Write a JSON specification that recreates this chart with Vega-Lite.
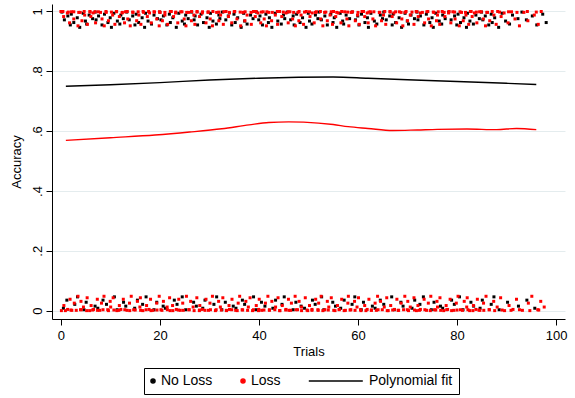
{
"$schema": "https://vega.github.io/schema/vega-lite/v6.json",
"width": 513, "height": 315,
"autosize": {"type": "none"},
"padding": {"left": 52, "top": 4, "right": 10, "bottom": 79},
"background": "white",
"config": {
 "view": {"stroke": null},
 "font": "Liberation Sans",
 "axis": {"domainColor": "black", "tickColor": "black", "labelColor": "black", "titleColor": "black", "titleFontWeight": "normal", "labelFontSize": 13, "titleFontSize": 13, "gridColor": "#e4ecee", "gridWidth": 1, "domainWidth": 1, "tickWidth": 1},
 "legend": {"title": null, "orient": "none", "legendX": 92, "legendY": 364, "direction": "horizontal",
   "strokeColor": "black", "fillColor": "white", "padding": 6, "labelFontSize": 14, "labelColor": "black",
   "labelOffset": 1, "symbolOffset": -4, "columnPadding": 25, "symbolSize": 64, "symbolStrokeWidth": 1.3}
},
"datasets": {
"noloss": [
{"x":0.2,"y":0.998},{"x":0.7,"y":0.972},{"x":1.4,"y":0.985},{"x":1.9,"y":0.955},{"x":2.1,"y":0.991},{"x":2.6,"y":0.963},{"x":3.3,"y":0.979},{"x":3.8,"y":0.947},{"x":4.5,"y":0.994},{"x":4.95,"y":0.968},
{"x":5.2,"y":0.958},{"x":5.7,"y":0.988},{"x":6.4,"y":0.976},{"x":6.9,"y":0.998},{"x":7.1,"y":0.972},{"x":7.6,"y":0.985},{"x":8.3,"y":0.955},{"x":8.8,"y":0.991},{"x":9.5,"y":0.963},{"x":9.95,"y":0.979},
{"x":10.2,"y":0.947},{"x":10.7,"y":0.994},{"x":11.4,"y":0.968},{"x":11.9,"y":0.958},{"x":12.1,"y":0.988},{"x":12.6,"y":0.976},{"x":13.3,"y":0.998},{"x":13.8,"y":0.972},{"x":14.5,"y":0.985},{"x":14.95,"y":0.955},
{"x":15.2,"y":0.991},{"x":15.7,"y":0.963},{"x":16.4,"y":0.979},{"x":16.9,"y":0.947},{"x":17.1,"y":0.994},{"x":17.6,"y":0.968},{"x":18.3,"y":0.958},{"x":18.8,"y":0.988},{"x":19.5,"y":0.976},{"x":19.95,"y":0.998},
{"x":20.2,"y":0.972},{"x":20.7,"y":0.985},{"x":21.4,"y":0.955},{"x":21.9,"y":0.991},{"x":22.1,"y":0.963},{"x":22.6,"y":0.979},{"x":23.3,"y":0.947},{"x":23.8,"y":0.994},{"x":24.5,"y":0.968},{"x":24.95,"y":0.958},
{"x":25.2,"y":0.988},{"x":25.7,"y":0.976},{"x":26.4,"y":0.998},{"x":26.9,"y":0.972},{"x":27.1,"y":0.985},{"x":27.6,"y":0.955},{"x":28.3,"y":0.991},{"x":28.8,"y":0.963},{"x":29.5,"y":0.979},{"x":29.95,"y":0.947},
{"x":30.2,"y":0.994},{"x":30.7,"y":0.968},{"x":31.4,"y":0.958},{"x":31.9,"y":0.988},{"x":32.1,"y":0.976},{"x":32.6,"y":0.998},{"x":33.3,"y":0.972},{"x":33.8,"y":0.985},{"x":34.5,"y":0.955},{"x":34.95,"y":0.991},
{"x":35.2,"y":0.963},{"x":35.7,"y":0.979},{"x":36.4,"y":0.947},{"x":36.9,"y":0.994},{"x":37.1,"y":0.968},{"x":37.6,"y":0.958},{"x":38.3,"y":0.988},{"x":38.8,"y":0.976},{"x":39.5,"y":0.998},{"x":39.95,"y":0.972},
{"x":40.2,"y":0.985},{"x":40.7,"y":0.955},{"x":41.4,"y":0.991},{"x":41.9,"y":0.963},{"x":42.1,"y":0.979},{"x":42.6,"y":0.947},{"x":43.3,"y":0.994},{"x":43.8,"y":0.968},{"x":44.5,"y":0.958},{"x":44.95,"y":0.988},
{"x":45.2,"y":0.976},{"x":45.7,"y":0.998},{"x":46.4,"y":0.972},{"x":46.9,"y":0.985},{"x":47.1,"y":0.955},{"x":47.6,"y":0.991},{"x":48.3,"y":0.963},{"x":48.8,"y":0.979},{"x":49.5,"y":0.947},{"x":49.95,"y":0.994},
{"x":50.2,"y":0.968},{"x":50.7,"y":0.958},{"x":51.4,"y":0.988},{"x":51.9,"y":0.976},{"x":52.1,"y":0.998},{"x":52.6,"y":0.972},{"x":53.3,"y":0.985},{"x":53.8,"y":0.955},{"x":54.5,"y":0.991},{"x":54.95,"y":0.963},
{"x":55.2,"y":0.979},{"x":55.7,"y":0.947},{"x":56.4,"y":0.994},{"x":56.9,"y":0.968},{"x":57.1,"y":0.958},{"x":57.6,"y":0.988},{"x":58.3,"y":0.976},{"x":58.8,"y":0.998},{"x":59.5,"y":0.972},{"x":59.95,"y":0.985},
{"x":60.2,"y":0.955},{"x":60.7,"y":0.991},{"x":61.4,"y":0.963},{"x":61.9,"y":0.979},{"x":62.1,"y":0.947},{"x":62.6,"y":0.994},{"x":63.3,"y":0.968},{"x":63.8,"y":0.958},{"x":64.5,"y":0.988},{"x":64.95,"y":0.976},
{"x":65.2,"y":0.998},{"x":65.7,"y":0.972},{"x":66.4,"y":0.985},{"x":66.9,"y":0.955},{"x":67.1,"y":0.991},{"x":67.6,"y":0.963},{"x":68.3,"y":0.979},{"x":68.8,"y":0.947},{"x":69.5,"y":0.994},{"x":69.95,"y":0.968},
{"x":70.2,"y":0.958},{"x":70.7,"y":0.988},{"x":71.4,"y":0.976},{"x":71.9,"y":0.998},{"x":72.1,"y":0.972},{"x":72.6,"y":0.985},{"x":73.3,"y":0.955},{"x":73.8,"y":0.991},{"x":74.5,"y":0.963},{"x":74.95,"y":0.979},
{"x":75.2,"y":0.947},{"x":75.7,"y":0.994},{"x":76.4,"y":0.968},{"x":76.9,"y":0.958},{"x":77.1,"y":0.988},{"x":77.6,"y":0.976},{"x":78.3,"y":0.998},{"x":78.8,"y":0.972},{"x":79.5,"y":0.985},{"x":79.95,"y":0.955},
{"x":80.2,"y":0.991},{"x":80.7,"y":0.963},{"x":81.4,"y":0.979},{"x":81.9,"y":0.947},{"x":82.1,"y":0.994},{"x":82.6,"y":0.968},{"x":83.3,"y":0.958},{"x":83.8,"y":0.988},{"x":84.5,"y":0.976},{"x":84.95,"y":0.998},
{"x":85.2,"y":0.972},{"x":85.7,"y":0.985},{"x":86.4,"y":0.955},{"x":86.9,"y":0.991},{"x":87.1,"y":0.963},{"x":87.6,"y":0.979},
{"x":88.4,"y":0.947},{"x":89.1,"y":0.994},{"x":89.8,"y":0.968},{"x":90.6,"y":0.958},{"x":91.2,"y":0.988},{"x":92.3,"y":0.976},{"x":93.1,"y":0.998},{"x":94.0,"y":0.972},{"x":95.2,"y":0.985},{"x":96.1,"y":0.955},{"x":97.3,"y":0.991},{"x":98.0,"y":0.963},
{"x":0.5,"y":0.008},{"x":1.2,"y":0.035},{"x":2.8,"y":0.021},{"x":3.35,"y":0.046},{"x":4.65,"y":0.003},{"x":5.1,"y":0.028},{"x":6.9,"y":0.015},{"x":7.45,"y":0.008},{"x":8.5,"y":0.035},{"x":9.2,"y":0.021},
{"x":10.8,"y":0.046},{"x":11.35,"y":0.003},{"x":12.65,"y":0.028},{"x":13.1,"y":0.015},{"x":14.9,"y":0.008},{"x":15.45,"y":0.035},{"x":16.5,"y":0.021},{"x":17.2,"y":0.046},{"x":18.8,"y":0.003},{"x":19.35,"y":0.028},
{"x":20.65,"y":0.015},{"x":21.1,"y":0.008},{"x":22.9,"y":0.035},{"x":23.45,"y":0.021},{"x":24.5,"y":0.046},{"x":25.2,"y":0.003},{"x":26.8,"y":0.028},{"x":27.35,"y":0.015},{"x":28.65,"y":0.008},{"x":29.1,"y":0.035},
{"x":30.9,"y":0.021},{"x":31.45,"y":0.046},{"x":32.5,"y":0.003},{"x":33.2,"y":0.028},{"x":34.8,"y":0.015},{"x":35.35,"y":0.008},{"x":36.65,"y":0.035},{"x":37.1,"y":0.021},{"x":38.9,"y":0.046},{"x":39.45,"y":0.003},
{"x":40.5,"y":0.028},{"x":41.2,"y":0.015},{"x":42.8,"y":0.008},{"x":43.35,"y":0.035},{"x":44.65,"y":0.021},{"x":45.1,"y":0.046},{"x":46.9,"y":0.003},{"x":47.45,"y":0.028},{"x":48.5,"y":0.015},{"x":49.2,"y":0.008},
{"x":50.8,"y":0.035},{"x":51.35,"y":0.021},{"x":52.65,"y":0.046},{"x":53.1,"y":0.003},{"x":54.9,"y":0.028},{"x":55.45,"y":0.015},{"x":56.5,"y":0.008},{"x":57.2,"y":0.035},{"x":58.8,"y":0.021},{"x":59.35,"y":0.046},
{"x":60.65,"y":0.003},{"x":61.1,"y":0.028},{"x":62.9,"y":0.015},{"x":63.45,"y":0.008},{"x":64.5,"y":0.035},{"x":65.2,"y":0.021},{"x":66.8,"y":0.046},{"x":67.35,"y":0.003},{"x":68.65,"y":0.028},{"x":69.1,"y":0.015},
{"x":70.9,"y":0.008},{"x":71.45,"y":0.035},{"x":72.5,"y":0.021},{"x":73.2,"y":0.046},{"x":74.8,"y":0.003},{"x":75.35,"y":0.028},{"x":76.65,"y":0.015},{"x":77.1,"y":0.008},{"x":78.9,"y":0.035},{"x":79.45,"y":0.021},
{"x":80.5,"y":0.046},{"x":81.2,"y":0.003},{"x":82.8,"y":0.028},{"x":83.35,"y":0.015},{"x":84.65,"y":0.008},{"x":85.1,"y":0.035},{"x":86.9,"y":0.021},{"x":87.45,"y":0.046},{"x":88.5,"y":0.003},
{"x":90.2,"y":0.028},{"x":92.4,"y":0.015},{"x":94.1,"y":0.035},{"x":95.7,"y":0.008}
],
"loss": [
{"x":0.0,"y":1.0},{"x":0.55,"y":0.983},{"x":1.3,"y":0.995},{"x":1.75,"y":0.962},{"x":2.15,"y":0.999},{"x":2.6,"y":0.975},{"x":3.45,"y":0.952},{"x":3.9,"y":0.997},{"x":4.25,"y":0.969},{"x":4.8,"y":0.988},
{"x":5.35,"y":0.957},{"x":5.85,"y":1.0},{"x":6.05,"y":0.983},{"x":6.5,"y":0.995},{"x":7.0,"y":0.962},{"x":7.55,"y":0.999},{"x":8.3,"y":0.975},{"x":8.75,"y":0.952},{"x":9.15,"y":0.997},{"x":9.6,"y":0.969},
{"x":10.45,"y":0.988},{"x":10.9,"y":0.957},{"x":11.25,"y":1.0},{"x":11.8,"y":0.983},{"x":12.35,"y":0.995},{"x":12.85,"y":0.962},{"x":13.05,"y":0.999},{"x":13.5,"y":0.975},{"x":14.0,"y":0.952},{"x":14.55,"y":0.997},
{"x":15.3,"y":0.969},{"x":15.75,"y":0.988},{"x":16.15,"y":0.957},{"x":16.6,"y":1.0},{"x":17.45,"y":0.983},{"x":17.9,"y":0.995},{"x":18.25,"y":0.962},{"x":18.8,"y":0.999},{"x":19.35,"y":0.975},{"x":19.85,"y":0.952},
{"x":20.05,"y":0.997},{"x":20.5,"y":0.969},{"x":21.0,"y":0.988},{"x":21.55,"y":0.957},{"x":22.3,"y":1.0},{"x":22.75,"y":0.983},{"x":23.15,"y":0.995},{"x":23.6,"y":0.962},{"x":24.45,"y":0.999},{"x":24.9,"y":0.975},
{"x":25.25,"y":0.952},{"x":25.8,"y":0.997},{"x":26.35,"y":0.969},{"x":26.85,"y":0.988},{"x":27.05,"y":0.957},{"x":27.5,"y":1.0},{"x":28.0,"y":0.983},{"x":28.55,"y":0.995},{"x":29.3,"y":0.962},{"x":29.75,"y":0.999},
{"x":30.15,"y":0.975},{"x":30.6,"y":0.952},{"x":31.45,"y":0.997},{"x":31.9,"y":0.969},{"x":32.25,"y":0.988},{"x":32.8,"y":0.957},{"x":33.35,"y":1.0},{"x":33.85,"y":0.983},{"x":34.05,"y":0.995},{"x":34.5,"y":0.962},
{"x":35.0,"y":0.999},{"x":35.55,"y":0.975},{"x":36.3,"y":0.952},{"x":36.75,"y":0.997},{"x":37.15,"y":0.969},{"x":37.6,"y":0.988},{"x":38.45,"y":0.957},{"x":38.9,"y":1.0},{"x":39.25,"y":0.983},{"x":39.8,"y":0.995},
{"x":40.35,"y":0.962},{"x":40.85,"y":0.999},{"x":41.05,"y":0.975},{"x":41.5,"y":0.952},{"x":42.0,"y":0.997},{"x":42.55,"y":0.969},{"x":43.3,"y":0.988},{"x":43.75,"y":0.957},{"x":44.15,"y":1.0},{"x":44.6,"y":0.983},
{"x":45.45,"y":0.995},{"x":45.9,"y":0.962},{"x":46.25,"y":0.999},{"x":46.8,"y":0.975},{"x":47.35,"y":0.952},{"x":47.85,"y":0.997},{"x":48.05,"y":0.969},{"x":48.5,"y":0.988},{"x":49.0,"y":0.957},{"x":49.55,"y":1.0},
{"x":50.3,"y":0.983},{"x":50.75,"y":0.995},{"x":51.15,"y":0.962},{"x":51.6,"y":0.999},{"x":52.45,"y":0.975},{"x":52.9,"y":0.952},{"x":53.25,"y":0.997},{"x":53.8,"y":0.969},{"x":54.35,"y":0.988},{"x":54.85,"y":0.957},
{"x":55.05,"y":1.0},{"x":55.5,"y":0.983},{"x":56.0,"y":0.995},{"x":56.55,"y":0.962},{"x":57.3,"y":0.999},{"x":57.75,"y":0.975},{"x":58.15,"y":0.952},{"x":58.6,"y":0.997},{"x":59.45,"y":0.969},{"x":59.9,"y":0.988},
{"x":60.25,"y":0.957},{"x":60.8,"y":1.0},{"x":61.35,"y":0.983},{"x":61.85,"y":0.995},{"x":62.05,"y":0.962},{"x":62.5,"y":0.999},{"x":63.0,"y":0.975},{"x":63.55,"y":0.952},{"x":64.3,"y":0.997},{"x":64.75,"y":0.969},
{"x":65.15,"y":0.988},{"x":65.6,"y":0.957},{"x":66.45,"y":1.0},{"x":66.9,"y":0.983},{"x":67.25,"y":0.995},{"x":67.8,"y":0.962},{"x":68.35,"y":0.999},{"x":68.85,"y":0.975},{"x":69.05,"y":0.952},{"x":69.5,"y":0.997},
{"x":70.0,"y":0.969},{"x":70.55,"y":0.988},{"x":71.3,"y":0.957},{"x":71.75,"y":1.0},{"x":72.15,"y":0.983},{"x":72.6,"y":0.995},{"x":73.45,"y":0.962},{"x":73.9,"y":0.999},{"x":74.25,"y":0.975},{"x":74.8,"y":0.952},
{"x":75.35,"y":0.997},{"x":75.85,"y":0.969},{"x":76.05,"y":0.988},{"x":76.5,"y":0.957},{"x":77.0,"y":1.0},{"x":77.55,"y":0.983},{"x":78.3,"y":0.995},{"x":78.75,"y":0.962},{"x":79.15,"y":0.999},{"x":79.6,"y":0.975},
{"x":80.45,"y":0.952},{"x":80.9,"y":0.997},{"x":81.25,"y":0.969},{"x":81.8,"y":0.988},{"x":82.35,"y":0.957},{"x":82.85,"y":1.0},{"x":83.05,"y":0.983},{"x":83.5,"y":0.995},{"x":84.0,"y":0.962},{"x":84.55,"y":0.999},
{"x":85.3,"y":0.975},{"x":85.75,"y":0.952},{"x":86.15,"y":0.997},{"x":86.6,"y":0.969},{"x":87.45,"y":0.988},{"x":87.9,"y":0.957},
{"x":88.2,"y":1.0},{"x":88.9,"y":0.983},{"x":89.5,"y":0.995},{"x":90.3,"y":0.962},{"x":91.0,"y":0.999},{"x":91.7,"y":0.975},{"x":92.6,"y":0.952},{"x":93.5,"y":0.997},{"x":94.3,"y":0.969},{"x":95.6,"y":0.988},{"x":96.4,"y":0.957},{"x":97.0,"y":1.0},
{"x":0.4,"y":1.0},{"x":1.5,"y":0.998},{"x":2.6,"y":0.999},{"x":3.6,"y":0.997},{"x":4.7,"y":1.0},{"x":5.9,"y":0.998},{"x":6.9,"y":0.999},{"x":8.0,"y":0.997},{"x":9.1,"y":1.0},{"x":10.2,"y":0.998},
{"x":11.2,"y":0.999},{"x":12.4,"y":0.997},{"x":13.4,"y":1.0},{"x":14.5,"y":0.998},{"x":15.6,"y":0.999},{"x":16.7,"y":0.997},{"x":17.7,"y":1.0},{"x":18.9,"y":0.998},{"x":19.9,"y":0.999},{"x":21.0,"y":0.997},
{"x":22.1,"y":1.0},{"x":23.2,"y":0.998},{"x":24.2,"y":0.999},{"x":25.4,"y":0.997},{"x":26.4,"y":1.0},{"x":27.5,"y":0.998},{"x":28.6,"y":0.999},{"x":29.7,"y":0.997},{"x":30.7,"y":1.0},{"x":31.9,"y":0.998},
{"x":32.9,"y":0.999},{"x":34.0,"y":0.997},{"x":35.1,"y":1.0},{"x":36.2,"y":0.998},{"x":37.2,"y":0.999},{"x":38.4,"y":0.997},{"x":39.4,"y":1.0},{"x":40.5,"y":0.998},{"x":41.6,"y":0.999},{"x":42.7,"y":0.997},
{"x":43.7,"y":1.0},{"x":44.9,"y":0.998},{"x":45.9,"y":0.999},{"x":47.0,"y":0.997},{"x":48.1,"y":1.0},{"x":49.2,"y":0.998},{"x":50.2,"y":0.999},{"x":51.4,"y":0.997},{"x":52.4,"y":1.0},{"x":53.5,"y":0.998},
{"x":54.6,"y":0.999},{"x":55.7,"y":0.997},{"x":56.7,"y":1.0},{"x":57.9,"y":0.998},{"x":58.9,"y":0.999},{"x":60.0,"y":0.997},{"x":61.1,"y":1.0},{"x":62.2,"y":0.998},{"x":63.2,"y":0.999},{"x":64.4,"y":0.997},
{"x":65.4,"y":1.0},{"x":66.5,"y":0.998},{"x":67.6,"y":0.999},{"x":68.7,"y":0.997},{"x":69.7,"y":1.0},{"x":70.9,"y":0.998},{"x":71.9,"y":0.999},{"x":73.0,"y":0.997},{"x":74.1,"y":1.0},{"x":75.2,"y":0.998},
{"x":76.2,"y":0.999},{"x":77.4,"y":0.997},{"x":78.4,"y":1.0},{"x":79.5,"y":0.998},{"x":80.6,"y":0.999},{"x":81.7,"y":0.997},{"x":82.7,"y":1.0},{"x":83.9,"y":0.998},{"x":84.9,"y":0.999},{"x":86.0,"y":0.997},
{"x":87.1,"y":1.0},{"x":88.6,"y":0.998},{"x":90.4,"y":0.999},{"x":92.1,"y":0.997},{"x":94.2,"y":1.0},{"x":96.0,"y":0.998},
{"x":0.1,"y":0.0},{"x":0.6,"y":0.017},{"x":1.35,"y":0.004},{"x":1.85,"y":0.038},{"x":2.2,"y":0.001},{"x":2.7,"y":0.025},{"x":3.45,"y":0.048},{"x":3.95,"y":0.003},{"x":4.05,"y":0.031},{"x":4.55,"y":0.012},
{"x":5.3,"y":0.043},{"x":5.8,"y":0.0},{"x":6.1,"y":0.017},{"x":6.6,"y":0.004},{"x":7.35,"y":0.038},{"x":7.85,"y":0.001},{"x":8.2,"y":0.025},{"x":8.7,"y":0.048},{"x":9.45,"y":0.003},{"x":9.95,"y":0.031},
{"x":10.05,"y":0.012},{"x":10.55,"y":0.043},{"x":11.3,"y":0.0},{"x":11.8,"y":0.017},{"x":12.1,"y":0.004},{"x":12.6,"y":0.038},{"x":13.35,"y":0.001},{"x":13.85,"y":0.025},{"x":14.2,"y":0.048},{"x":14.7,"y":0.003},
{"x":15.45,"y":0.031},{"x":15.95,"y":0.012},{"x":16.05,"y":0.043},{"x":16.55,"y":0.0},{"x":17.3,"y":0.017},{"x":17.8,"y":0.004},{"x":18.1,"y":0.038},{"x":18.6,"y":0.001},{"x":19.35,"y":0.025},{"x":19.85,"y":0.048},
{"x":20.2,"y":0.003},{"x":20.7,"y":0.031},{"x":21.45,"y":0.012},{"x":21.95,"y":0.043},{"x":22.05,"y":0.0},{"x":22.55,"y":0.017},{"x":23.3,"y":0.004},{"x":23.8,"y":0.038},{"x":24.1,"y":0.001},{"x":24.6,"y":0.025},
{"x":25.35,"y":0.048},{"x":25.85,"y":0.003},{"x":26.2,"y":0.031},{"x":26.7,"y":0.012},{"x":27.45,"y":0.043},{"x":27.95,"y":0.0},{"x":28.05,"y":0.017},{"x":28.55,"y":0.004},{"x":29.3,"y":0.038},{"x":29.8,"y":0.001},
{"x":30.1,"y":0.025},{"x":30.6,"y":0.048},{"x":31.35,"y":0.003},{"x":31.85,"y":0.031},{"x":32.2,"y":0.012},{"x":32.7,"y":0.043},{"x":33.45,"y":0.0},{"x":33.95,"y":0.017},{"x":34.05,"y":0.004},{"x":34.55,"y":0.038},
{"x":35.3,"y":0.001},{"x":35.8,"y":0.025},{"x":36.1,"y":0.048},{"x":36.6,"y":0.003},{"x":37.35,"y":0.031},{"x":37.85,"y":0.012},{"x":38.2,"y":0.043},{"x":38.7,"y":0.0},{"x":39.45,"y":0.017},{"x":39.95,"y":0.004},
{"x":40.05,"y":0.038},{"x":40.55,"y":0.001},{"x":41.3,"y":0.025},{"x":41.8,"y":0.048},{"x":42.1,"y":0.003},{"x":42.6,"y":0.031},{"x":43.35,"y":0.012},{"x":43.85,"y":0.043},{"x":44.2,"y":0.0},{"x":44.7,"y":0.017},
{"x":45.45,"y":0.004},{"x":45.95,"y":0.038},{"x":46.05,"y":0.001},{"x":46.55,"y":0.025},{"x":47.3,"y":0.048},{"x":47.8,"y":0.003},{"x":48.1,"y":0.031},{"x":48.6,"y":0.012},{"x":49.35,"y":0.043},{"x":49.85,"y":0.0},
{"x":50.2,"y":0.017},{"x":50.7,"y":0.004},{"x":51.45,"y":0.038},{"x":51.95,"y":0.001},{"x":52.05,"y":0.025},{"x":52.55,"y":0.048},{"x":53.3,"y":0.003},{"x":53.8,"y":0.031},{"x":54.1,"y":0.012},{"x":54.6,"y":0.043},
{"x":55.35,"y":0.0},{"x":55.85,"y":0.017},{"x":56.2,"y":0.004},{"x":56.7,"y":0.038},{"x":57.45,"y":0.001},{"x":57.95,"y":0.025},{"x":58.05,"y":0.048},{"x":58.55,"y":0.003},{"x":59.3,"y":0.031},{"x":59.8,"y":0.012},
{"x":60.1,"y":0.043},{"x":60.6,"y":0.0},{"x":61.35,"y":0.017},{"x":61.85,"y":0.004},{"x":62.2,"y":0.038},{"x":62.7,"y":0.001},{"x":63.45,"y":0.025},{"x":63.95,"y":0.048},{"x":64.05,"y":0.003},{"x":64.55,"y":0.031},
{"x":65.3,"y":0.012},{"x":65.8,"y":0.043},{"x":66.1,"y":0.0},{"x":66.6,"y":0.017},{"x":67.35,"y":0.004},{"x":67.85,"y":0.038},{"x":68.2,"y":0.001},{"x":68.7,"y":0.025},{"x":69.45,"y":0.048},{"x":69.95,"y":0.003},
{"x":70.05,"y":0.031},{"x":70.55,"y":0.012},{"x":71.3,"y":0.043},{"x":71.8,"y":0.0},{"x":72.1,"y":0.017},{"x":72.6,"y":0.004},{"x":73.35,"y":0.038},{"x":73.85,"y":0.001},{"x":74.2,"y":0.025},{"x":74.7,"y":0.048},
{"x":75.45,"y":0.003},{"x":75.95,"y":0.031},{"x":76.05,"y":0.012},{"x":76.55,"y":0.043},{"x":77.3,"y":0.0},{"x":77.8,"y":0.017},{"x":78.1,"y":0.004},{"x":78.6,"y":0.038},{"x":79.35,"y":0.001},{"x":79.85,"y":0.025},
{"x":80.2,"y":0.048},{"x":80.7,"y":0.003},{"x":81.45,"y":0.031},{"x":81.95,"y":0.012},{"x":82.05,"y":0.043},{"x":82.55,"y":0.0},{"x":83.3,"y":0.017},{"x":83.8,"y":0.004},{"x":84.1,"y":0.038},{"x":84.6,"y":0.001},
{"x":85.35,"y":0.025},{"x":85.85,"y":0.048},
{"x":86.5,"y":0.003},{"x":87.4,"y":0.031},{"x":88.1,"y":0.012},{"x":88.8,"y":0.043},{"x":89.6,"y":0.0},{"x":90.5,"y":0.017},{"x":91.3,"y":0.004},{"x":92.0,"y":0.038},{"x":93.2,"y":0.001},{"x":94.4,"y":0.025},{"x":95.1,"y":0.048},{"x":96.3,"y":0.003},{"x":96.9,"y":0.031},{"x":97.6,"y":0.012},
{"x":0.9,"y":0.0},{"x":2.0,"y":0.002},{"x":3.1,"y":0.001},{"x":4.1,"y":0.003},{"x":5.2,"y":0.0},{"x":6.4,"y":0.002},{"x":7.4,"y":0.001},{"x":8.5,"y":0.003},{"x":9.6,"y":0.0},{"x":10.7,"y":0.002},
{"x":11.7,"y":0.001},{"x":12.9,"y":0.003},{"x":13.9,"y":0.0},{"x":15.0,"y":0.002},{"x":16.1,"y":0.001},{"x":17.2,"y":0.003},{"x":18.2,"y":0.0},{"x":19.4,"y":0.002},{"x":20.4,"y":0.001},{"x":21.5,"y":0.003},
{"x":22.6,"y":0.0},{"x":23.7,"y":0.002},{"x":24.7,"y":0.001},{"x":25.9,"y":0.003},{"x":26.9,"y":0.0},{"x":28.0,"y":0.002},{"x":29.1,"y":0.001},{"x":30.2,"y":0.003},{"x":31.2,"y":0.0},{"x":32.4,"y":0.002},
{"x":33.4,"y":0.001},{"x":34.5,"y":0.003},{"x":35.6,"y":0.0},{"x":36.7,"y":0.002},{"x":37.7,"y":0.001},{"x":38.9,"y":0.003},{"x":39.9,"y":0.0},{"x":41.0,"y":0.002},{"x":42.1,"y":0.001},{"x":43.2,"y":0.003},
{"x":44.2,"y":0.0},{"x":45.4,"y":0.002},{"x":46.4,"y":0.001},{"x":47.5,"y":0.003},{"x":48.6,"y":0.0},{"x":49.7,"y":0.002},{"x":50.7,"y":0.001},{"x":51.9,"y":0.003},{"x":52.9,"y":0.0},{"x":54.0,"y":0.002},
{"x":55.1,"y":0.001},{"x":56.2,"y":0.003},{"x":57.2,"y":0.0},{"x":58.4,"y":0.002},{"x":59.4,"y":0.001},{"x":60.5,"y":0.003},{"x":61.6,"y":0.0},{"x":62.7,"y":0.002},{"x":63.7,"y":0.001},{"x":64.9,"y":0.003},
{"x":65.9,"y":0.0},{"x":67.0,"y":0.002},{"x":68.1,"y":0.001},{"x":69.2,"y":0.003},{"x":70.2,"y":0.0},{"x":71.4,"y":0.002},{"x":72.4,"y":0.001},{"x":73.5,"y":0.003},{"x":74.6,"y":0.0},{"x":75.7,"y":0.002},
{"x":76.7,"y":0.001},{"x":77.9,"y":0.003},{"x":78.9,"y":0.0},{"x":80.0,"y":0.002},{"x":81.1,"y":0.001},{"x":82.2,"y":0.003},{"x":83.2,"y":0.0},{"x":84.4,"y":0.002},{"x":85.4,"y":0.001},{"x":86.5,"y":0.003},
{"x":87.6,"y":0.0},{"x":89.1,"y":0.002},{"x":90.9,"y":0.001},{"x":92.6,"y":0.003},{"x":94.7,"y":0.0},{"x":96.5,"y":0.002}
],
"fitN": [
{"x":1,"y":0.750},{"x":10,"y":0.755},{"x":20,"y":0.762},{"x":30,"y":0.771},{"x":40,"y":0.777},{"x":48,"y":0.780},{"x":55,"y":0.781},{"x":62,"y":0.777},{"x":70,"y":0.772},{"x":80,"y":0.766},{"x":90,"y":0.760},{"x":96,"y":0.756}
],
"fitL": [
{"x":1,"y":0.569},{"x":10,"y":0.578},{"x":19,"y":0.587},{"x":26,"y":0.597},{"x":32.5,"y":0.608},{"x":38,"y":0.621},{"x":42,"y":0.629},{"x":46,"y":0.631},{"x":49,"y":0.630},{"x":55,"y":0.622},{"x":58,"y":0.615},{"x":62,"y":0.609},{"x":67,"y":0.602},{"x":72,"y":0.604},{"x":76,"y":0.606},{"x":82,"y":0.607},{"x":88,"y":0.605},{"x":92,"y":0.609},{"x":96,"y":0.605}
]
},
"encoding": {
 "x": {"field": "x", "type": "quantitative", "scale": {"domain": [-1.8, 101.8], "nice": false, "zero": false},
   "axis": {"title": "Trials", "values": [0, 20, 40, 60, 80, 100], "grid": false, "tickSize": 6, "labelPadding": 4, "titlePadding": 3, "labelFlush": false}},
 "y": {"field": "y", "type": "quantitative", "scale": {"domain": [-0.028, 1.025], "nice": false, "zero": false},
   "axis": {"title": "Accuracy", "values": [0, 0.2, 0.4, 0.6, 0.8, 1], "grid": true, "tickSize": 6, "labelPadding": 5, "labelAngle": -90, "labelAlign": "center", "labelBaseline": "alphabetic", "titlePadding": 8, "labelFlush": false,
     "labelExpr": "datum.value == 0 ? '0' : (datum.value == 1 ? '1' : '.' + round(datum.value * 10))"}}
},
"layer": [
 {"data": {"name": "noloss"}, "mark": {"type": "point", "filled": true, "shape": "square", "size": 9, "opacity": 1},
  "encoding": {"color": {"datum": "No Loss", "type": "nominal",
    "scale": {"domain": ["No Loss", "Loss", "Polynomial fit"], "range": ["black", "red", "black"]},
    "legend": {
      "encoding": {
        "symbols": {
          "shape": {"value": {"expr": "datum.value === 'Polynomial fit' ? 'M-1.3,0L12.2,0' : 'circle'"}},
          "size": {"value": {"expr": "datum.value === 'Polynomial fit' ? 64 : 18"}},
          "fill": {"value": {"expr": "datum.value === 'Loss' ? 'red' : (datum.value === 'No Loss' ? 'black' : 'transparent')"}},
          "stroke": {"value": {"expr": "datum.value === 'Polynomial fit' ? 'black' : 'transparent'"}},
          "strokeWidth": {"value": 1.3},
          "opacity": {"value": 1}
        },
        "labels": {
          "dx": {"value": {"expr": "datum.value === 'Polynomial fit' ? 47 : 0"}}
        }
      }}}}},
 {"data": {"name": "loss"}, "mark": {"type": "point", "filled": true, "shape": "square", "size": 9, "opacity": 1},
  "encoding": {"color": {"datum": "Loss", "type": "nominal"}}},
 {"data": {"name": "fitN"}, "mark": {"type": "line", "interpolate": "monotone", "strokeWidth": 1.4},
  "encoding": {"color": {"datum": "Polynomial fit", "type": "nominal"}}},
 {"data": {"name": "fitL"}, "mark": {"type": "line", "interpolate": "monotone", "strokeWidth": 1.4, "color": "red"},
  "encoding": {}}
]
}
